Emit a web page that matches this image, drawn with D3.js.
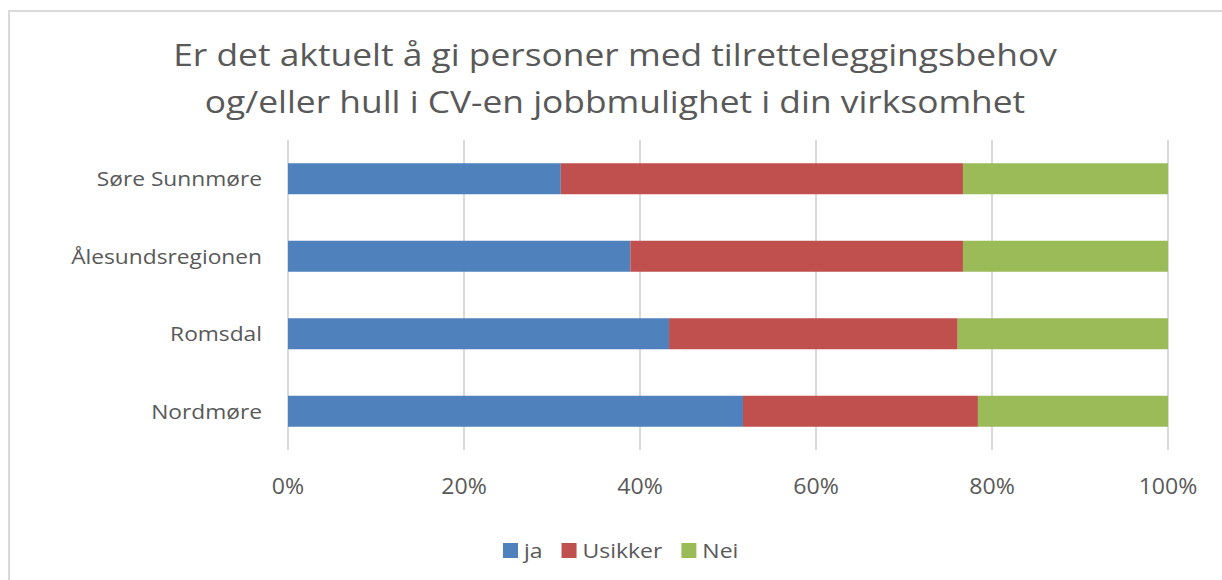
<!DOCTYPE html>
<html>
<head>
<meta charset="utf-8">
<script src="https://cdn.jsdelivr.net/npm/d3@7"></script>
<style>
  body { margin: 0; background: #fff; }
  svg text { font-family: "Open Sans", sans-serif; fill: #595959; }
</style>
</head>
<body>
<div id="chart"></div>
<script>

// regions, top to bottom
var aRegions = ["Søre Sunnmøre", "Ålesundsregionen", "Romsdal", "Nordmøre"];
var aSeries = ["ja", "Usikker", "Nei"];
var aColors = ["#4F81BD", "#C0504D", "#9BBB59"];

// shares in percent
var aJa      = [31.0, 38.9, 43.3, 51.7];
var aUsikker = [45.7, 37.8, 32.8, 26.7];
var aNei     = [23.3, 23.3, 23.9, 21.6];

var aTicks = [0, 20, 40, 60, 80, 100];
var aTitle = ["Er det aktuelt å gi personer med tilretteleggingsbehov",
              "og/eller hull i CV-en jobbmulighet i din virksomhet"];

var W = 1222, H = 580;
var plot = {left: 288, right: 1168, top: 140, bottom: 450};

var svg = d3.select("#chart").append("svg")
    .attr("width", W)
    .attr("height", H);

// the original text is a bit wider than Open Sans, so stretch it sideways
function place(x, y, sx) {
    return "translate(" + x + "," + y + ") scale(" + sx + ",1)";
}

// chart frame
svg.append("rect")
    .attr("x", 9)
    .attr("y", 11)
    .attr("width", W + 20)
    .attr("height", H + 20)
    .attr("fill", "none")
    .attr("stroke", "#d9d9d9")
    .attr("stroke-width", 2);

// title
svg.selectAll("text.title")
    .data(aTitle)
    .enter()
    .append("text")
    .attr("class", "title")
    .text(function(d) { return d; })
    .attr("transform", function(d, i) { return place(615, 66 + i * 47, 1.14); })
    .attr("text-anchor", "middle")
    .attr("font-size", "31px");

var x = d3.scaleLinear()
    .domain([0, 100])
    .range([plot.left, plot.right]);

var y = d3.scaleBand()
    .domain(aRegions)
    .range([plot.top, plot.bottom])
    .paddingInner(0.6)
    .paddingOuter(0.3);

// gridlines
svg.append("g")
    .selectAll("line")
    .data(aTicks)
    .enter()
    .append("line")
    .attr("x1", function(d) { return x(d); })
    .attr("x2", function(d) { return x(d); })
    .attr("y1", plot.top)
    .attr("y2", plot.bottom)
    .attr("stroke", "#d9d9d9")
    .attr("stroke-width", 2);

// stack the series
var aRows = aRegions.map(function(r, i) {
    return {region: r, ja: aJa[i], Usikker: aUsikker[i], Nei: aNei[i]};
});
var stacked = d3.stack().keys(aSeries)(aRows);

svg.append("g")
    .selectAll("g")
    .data(stacked)
    .enter()
    .append("g")
    .attr("fill", function(d, i) { return aColors[i]; })
    .selectAll("rect")
    .data(function(d) { return d; })
    .enter()
    .append("rect")
    .attr("x", function(d) { return x(d[0]); })
    .attr("width", function(d) { return x(d[1]) - x(d[0]); })
    .attr("y", function(d) { return y(d.data.region); })
    .attr("height", y.bandwidth());

// category labels
svg.selectAll("text.cat")
    .data(aRegions)
    .enter()
    .append("text")
    .attr("class", "cat")
    .text(function(d) { return d; })
    .attr("transform", function(d) { return place(262, y(d) + y.bandwidth() / 2, 1.11); })
    .attr("dy", "0.36em")
    .attr("text-anchor", "end")
    .attr("font-size", "20.5px");

// x axis labels
svg.selectAll("text.tick")
    .data(aTicks)
    .enter()
    .append("text")
    .attr("class", "tick")
    .text(function(d) { return d + "%"; })
    .attr("transform", function(d) { return place(x(d), 494, 1.1); })
    .attr("text-anchor", "middle")
    .attr("font-size", "21px");

// legend
var legend = svg.append("g");
var lx = 503;
aSeries.forEach(function(s, i) {
    legend.append("rect")
        .attr("x", lx)
        .attr("y", 543)
        .attr("width", 15)
        .attr("height", 15)
        .attr("fill", aColors[i]);
    var t = legend.append("text")
        .text(s)
        .attr("transform", place(lx + 21, 557.5, 1.12))
        .attr("font-size", "20.5px");
    lx += 21 + t.node().getComputedTextLength() * 1.12 + 19;
});

</script>
</body>
</html>
